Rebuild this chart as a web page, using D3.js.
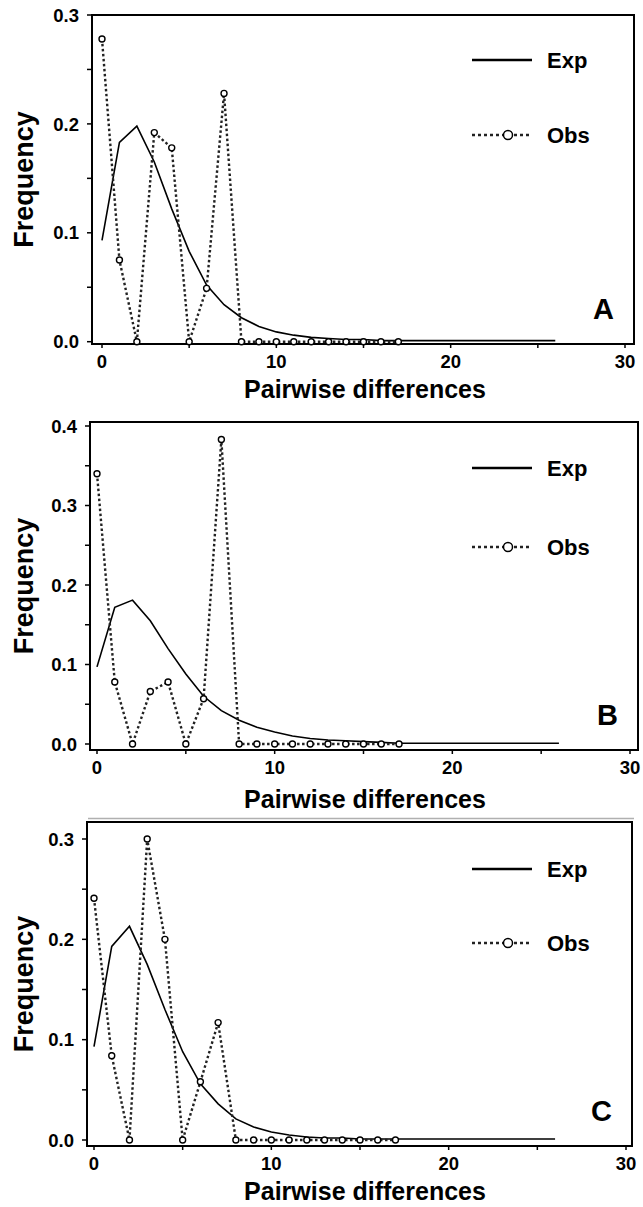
<!DOCTYPE html>
<html>
<head>
  <style>
    body { margin: 0; background: #fff; }
    text { font-family: "Liberation Sans", Arial, sans-serif; font-weight: bold; fill: #000; }
  </style>
  <script src="https://d3js.org/d3.v7.min.js"></script>
</head>
<body>
<svg width="643" height="1207"></svg>
<script>
// pairwise differences (x) for the two series
var expX = [0,1,2,3,4,5,6,7,8,9,10,11,12,13,14,15,16,17,18,19,20,21,22,23,24,25,26];
var obsX = [0,1,2,3,4,5,6,7,8,9,10,11,12,13,14,15,16,17];

// panel A
var expA = [0.093,0.183,0.198,0.165,0.122,0.083,0.052,0.034,0.022,0.014,0.009,0.006,0.004,0.003,0.002,0.002,0.001,0.001,0.001,0.001,0.001,0.001,0.001,0.001,0.001,0.001,0.001];
var obsA = [0.278,0.075,0.0,0.192,0.178,0.0,0.049,0.228,0.0,0.0,0.0,0.0,0.0,0.0,0.0,0.0,0.0,0.0];
// panel B
var expB = [0.097,0.172,0.181,0.155,0.120,0.088,0.060,0.042,0.030,0.021,0.015,0.010,0.007,0.005,0.004,0.003,0.002,0.001,0.001,0.001,0.001,0.001,0.001,0.001,0.001,0.001,0.001];
var obsB = [0.340,0.078,0.0,0.066,0.078,0.0,0.057,0.383,0.0,0.0,0.0,0.0,0.0,0.0,0.0,0.0,0.0,0.0];
// panel C
var expC = [0.093,0.193,0.213,0.175,0.130,0.088,0.056,0.036,0.021,0.013,0.008,0.005,0.003,0.002,0.002,0.001,0.001,0.001,0.001,0.001,0.001,0.001,0.001,0.001,0.001,0.001,0.001];
var obsC = [0.241,0.084,0.0,0.300,0.200,0.0,0.058,0.117,0.0,0.0,0.0,0.0,0.0,0.0,0.0,0.0,0.0,0.0];

var xTicks = [0,10,20,30];
var xMinor = [0,5,10,15,20,25,30];
var yTicksA = [0.0,0.1,0.2,0.3];
var yTicksB = [0.0,0.1,0.2,0.3,0.4];
var yTicksC = [0.0,0.1,0.2,0.3];

var svg = d3.select("svg");

// layout of each panel (frame + where the scales land)
var panels = [
  {exp: expA, obs: obsA, yTicks: yTicksA, ymax: 0.3, letter: "A",
   frame: [92, 15, 634, 344], xr: [102, 625], yr: [341.7, 15], legY: [60, 135], titleY: 398},
  {exp: expB, obs: obsB, yTicks: yTicksB, ymax: 0.4, letter: "B",
   frame: [90, 422, 638, 750], xr: [97, 630], yr: [744, 426], legY: [468, 547], titleY: 808},
  {exp: expC, obs: obsC, yTicks: yTicksC, ymax: 0.3, letter: "C",
   frame: [87, 822, 632, 1146], xr: [94, 626], yr: [1140, 839], legY: [869, 943], titleY: 1200}
];

// faint rule left above panel C in the source figure
svg.append("line").attr("x1", 88).attr("x2", 634).attr("y1", 818.5).attr("y2", 818.5)
  .attr("stroke", "#b0b0b0").attr("stroke-width", 1.5);

panels.forEach(function(p) {
  var x = d3.scaleLinear().domain([0, 30]).range(p.xr);
  var y = d3.scaleLinear().domain([0, p.ymax]).range(p.yr);
  var f = p.frame;
  var g = svg.append("g");

  // y axis: minor ticks every 0.05, labels every 0.1
  var yMinor = d3.range(0, p.ymax + 0.001, 0.05);
  g.selectAll(".ytk").data(yMinor).enter().append("line")
    .attr("x1", f[0] - 5).attr("x2", f[0])
    .attr("y1", function(d) { return y(d); }).attr("y2", function(d) { return y(d); })
    .attr("stroke", "#000").attr("stroke-width", 1.5);
  g.selectAll(".ylb").data(p.yTicks).enter().append("text")
    .attr("x", f[0] - 13).attr("y", function(d) { return y(d); })
    .attr("dy", "0.36em").attr("text-anchor", "end")
    .style("font-size", "18.5px")
    .text(function(d) { return d3.format(".1f")(d); });

  // x axis
  g.selectAll(".xtk").data(xMinor).enter().append("line")
    .attr("x1", function(d) { return x(d); }).attr("x2", function(d) { return x(d); })
    .attr("y1", f[3]).attr("y2", f[3] + 4)
    .attr("stroke", "#000").attr("stroke-width", 1.5);
  g.selectAll(".xlb").data(xTicks).enter().append("text")
    .attr("x", function(d) { return x(d); }).attr("y", f[3] + 24)
    .attr("text-anchor", "middle")
    .style("font-size", "18.5px")
    .text(function(d) { return d; });

  // frame
  g.append("rect")
    .attr("x", f[0]).attr("y", f[1])
    .attr("width", f[2] - f[0]).attr("height", f[3] - f[1])
    .attr("fill", "none").attr("stroke", "#000").attr("stroke-width", 2);

  // expected curve
  var line = d3.line().x(function(d) { return x(d[0]); }).y(function(d) { return y(d[1]); });
  g.append("path")
    .datum(expX.map(function(v, i) { return [v, p.exp[i]]; }))
    .attr("d", line)
    .attr("fill", "none").attr("stroke", "#000").attr("stroke-width", 1.6);

  // observed
  var obsPts = obsX.map(function(v, i) { return [v, p.obs[i]]; });
  g.append("path")
    .datum(obsPts)
    .attr("d", line)
    .attr("fill", "none").attr("stroke", "#222").attr("stroke-width", 2.4)
    .attr("stroke-dasharray", "2.5,2.5");
  g.selectAll(".pt").data(obsPts).enter().append("circle")
    .attr("cx", function(d) { return x(d[0]); }).attr("cy", function(d) { return y(d[1]); })
    .attr("r", 3).attr("fill", "#fff").attr("stroke", "#000").attr("stroke-width", 1.4);

  // legend
  g.append("line").attr("x1", 472).attr("x2", 532).attr("y1", p.legY[0]).attr("y2", p.legY[0])
    .attr("stroke", "#000").attr("stroke-width", 2.5);
  g.append("text").attr("x", 547).attr("y", p.legY[0]).attr("dy", "0.36em")
    .style("font-size", "22px").text("Exp");
  g.append("line").attr("x1", 472).attr("x2", 532).attr("y1", p.legY[1]).attr("y2", p.legY[1])
    .attr("stroke", "#222").attr("stroke-width", 2.5).attr("stroke-dasharray", "3,3");
  g.append("circle").attr("cx", 508).attr("cy", p.legY[1]).attr("r", 4.5)
    .attr("fill", "#fff").attr("stroke", "#000").attr("stroke-width", 1.5);
  g.append("text").attr("x", 547).attr("y", p.legY[1]).attr("dy", "0.36em")
    .style("font-size", "22px").text("Obs");

  // panel letter
  g.append("text").attr("x", f[2] - 20).attr("y", f[3] - 25)
    .attr("text-anchor", "end").style("font-size", "29px").text(p.letter);

  // axis titles
  g.append("text").attr("x", 365).attr("y", p.titleY)
    .attr("text-anchor", "middle").style("font-size", "25px").text("Pairwise differences");
  g.append("text")
    .attr("transform", "translate(33," + ((f[1] + f[3]) / 2) + ") rotate(-90)")
    .attr("text-anchor", "middle").style("font-size", "27px").text("Frequency");
});
</script>
</body>
</html>
